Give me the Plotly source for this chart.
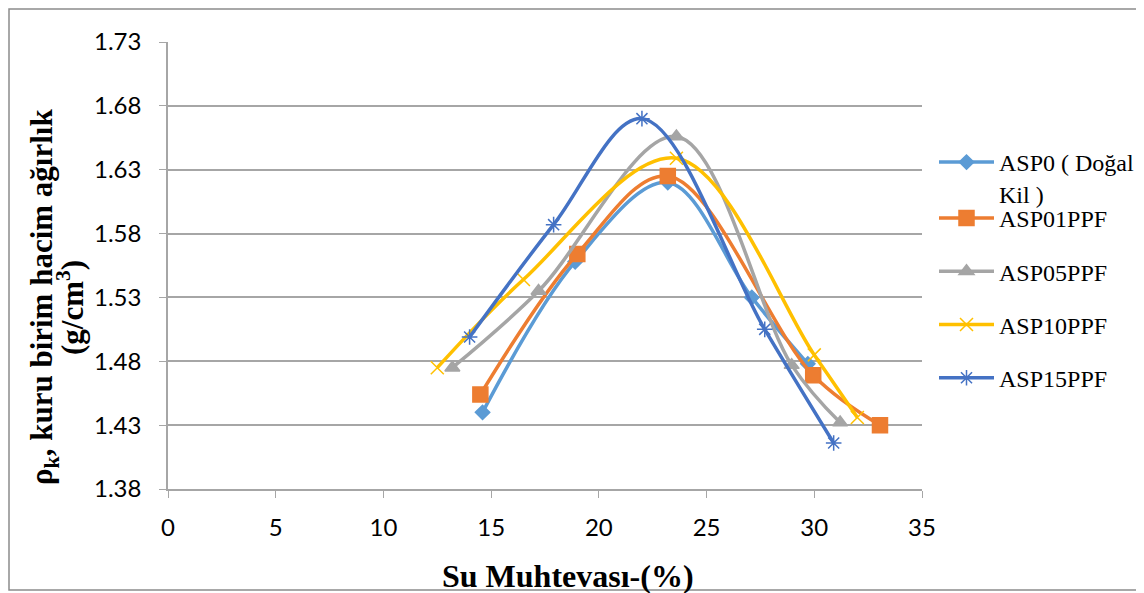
import plotly.graph_objects as go

# Data
names = ["ASP0 ( Doğal<br>Kil )", "ASP01PPF", "ASP05PPF", "ASP10PPF", "ASP15PPF"]
x_asp0 = [14.6, 18.9, 23.2, 27.1, 29.7]
y_asp0 = [1.440, 1.558, 1.620, 1.530, 1.478]
x_asp01 = [14.5, 19.0, 23.2, 29.95, 33.05]
y_asp01 = [1.454, 1.564, 1.625, 1.469, 1.430]
x_asp05 = [13.2, 17.2, 23.6, 28.95, 31.2]
y_asp05 = [1.475, 1.535, 1.656, 1.477, 1.432]
x_asp10 = [12.5, 16.5, 23.6, 30.0, 32.0]
y_asp10 = [1.475, 1.544, 1.639, 1.485, 1.436]
x_asp15 = [14.0, 17.9, 22.0, 27.7, 30.9]
y_asp15 = [1.499, 1.587, 1.670, 1.505, 1.416]

xs = [x_asp0, x_asp01, x_asp05, x_asp10, x_asp15]
ys = [y_asp0, y_asp01, y_asp05, y_asp10, y_asp15]
colors = ["#5B9BD5", "#ED7D31", "#A5A5A5", "#FFC000", "#4472C4"]
symbols = ["diamond", "square", "triangle-up", "x-thin-open", "asterisk-open"]
sizes = [11, 15, 13, 13, 13]

x_ticks = [0, 5, 10, 15, 20, 25, 30, 35]
y_ticks = [1.38, 1.43, 1.48, 1.53, 1.58, 1.63, 1.68, 1.73]

x_title = "<b>Su Muhtevası-(%)</b>"
y_title_1 = "<b>ρ<sub>k</sub>, kuru birim hacim ağırlık</b>"
y_title_2 = "<b>(g/cm<sup>3</sup>)</b>"

# page offset (body margin) compensation: plot area in page px is 168..922 x 42..489
PL, PR, PT, PB = 168, 922, 42, 489
PW, PH = PR - PL, PB - PT


def px(x):
    return (x - PL) / PW


def py(y):
    return (PB - y) / PH


fig = go.Figure()
for i in range(5):
    fig.add_trace(go.Scatter(
        x=xs[i], y=ys[i], name=names[i], mode="lines+markers",
        line=dict(color=colors[i], width=3.5, shape="spline", smoothing=1.0),
        marker=dict(symbol=symbols[i], size=sizes[i], color=colors[i],
                    line=dict(color=colors[i], width=1.5)),
        legend="legend" if i == 0 else "legend2",
        legendgroup=str(i),
    ))

serif = "Liberation Serif, Times New Roman, serif"
tickfont = dict(family="Lato, Calibri, sans-serif", size=24, color="#000000")
legfont = dict(family=serif, size=24, color="#000000")

W, H = 1136, 585
fig.update_layout(
    width=W, height=H,
    paper_bgcolor="white", plot_bgcolor="white",
    margin=dict(l=PL - 8, r=W - (PR - 8), t=PT - 8, b=H - (PB - 8), autoexpand=False),
    xaxis=dict(range=[0, 35], tickvals=x_ticks, ticktext=[str(v) for v in x_ticks],
               showgrid=False, zeroline=False, showline=True, linecolor="#A6A6A6",
               linewidth=1.5, ticks="outside", ticklen=7, tickcolor="#A6A6A6",
               tickfont=tickfont, automargin=False, ticklabelstandoff=9),
    yaxis=dict(range=[1.38, 1.73], tickvals=y_ticks,
               ticktext=["%.2f" % v for v in y_ticks],
               showgrid=True, gridcolor="#A6A6A6", gridwidth=1.5,
               zeroline=False, showline=True, linecolor="#A6A6A6", linewidth=1.5,
               ticks="outside", ticklen=7, tickcolor="#A6A6A6",
               tickfont=tickfont, automargin=False, ticklabelstandoff=13),
    legend=dict(x=px(934), y=py(140), xanchor="left", yanchor="top",
                font=legfont, itemwidth=55, valign="top",
                bgcolor="rgba(0,0,0,0)"),
    legend2=dict(x=px(934), y=py(196), xanchor="left", yanchor="top",
                 font=legfont, itemwidth=55, tracegroupgap=19,
                 traceorder="grouped", bgcolor="rgba(0,0,0,0)"),
    showlegend=True,
    annotations=[
        dict(text=x_title, x=px(568), y=py(576), xref="paper", yref="paper",
             showarrow=False, xanchor="center", yanchor="middle",
             font=dict(family=serif, size=32, color="#000000")),
        dict(text=y_title_1, x=px(44), y=py(297), xref="paper", yref="paper",
             showarrow=False, xanchor="center", yanchor="middle", textangle=-90,
             font=dict(family=serif, size=31, color="#000000")),
        dict(text=y_title_2, x=px(70), y=py(308), xref="paper", yref="paper",
             showarrow=False, xanchor="center", yanchor="middle", textangle=-90,
             font=dict(family=serif, size=31, color="#000000")),
    ],
)

fig.add_shape(type="rect", xref="paper", yref="paper",
              x0=px(9), x1=px(1139), y0=py(590), y1=py(9),
              line=dict(color="#8C8C8C", width=1.5), fillcolor="rgba(0,0,0,0)",
              layer="below")

fig.write_html("out.html")
